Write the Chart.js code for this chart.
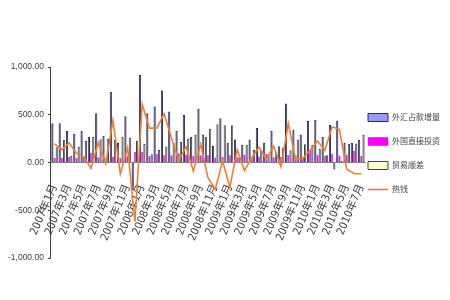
<!DOCTYPE html>
<html>
<head>
<meta charset="utf-8">
<script src="https://cdn.jsdelivr.net/npm/chart.js@4/dist/chart.umd.min.js"></script>
<style>
  html, body { margin: 0; padding: 0; background: #fff; }
  #wrap { width: 450px; height: 300px; }
</style>
</head>
<body>
<div id="wrap"><canvas id="chart"></canvas></div>
<script>
const months = [
  "2007年1月", "2007年2月", "2007年3月", "2007年4月", "2007年5月", "2007年6月",
  "2007年7月", "2007年8月", "2007年9月", "2007年10月", "2007年11月", "2007年12月",
  "2008年1月", "2008年2月", "2008年3月", "2008年4月", "2008年5月", "2008年6月",
  "2008年7月", "2008年8月", "2008年9月", "2008年10月", "2008年11月", "2008年12月",
  "2009年1月", "2009年2月", "2009年3月", "2009年4月", "2009年5月", "2009年6月",
  "2009年7月", "2009年8月", "2009年9月", "2009年10月", "2009年11月", "2009年12月",
  "2010年1月", "2010年2月", "2010年3月", "2010年4月", "2010年5月", "2010年6月",
  "2010年7月"
];

// 外汇占款增量
const fxIncrease = [
  410, 410, 330, 300, 330, 270, 515, 280, 740, 205, 485, -290,
  917, 515, 587, 755, 535, 330, 500, 268, 560, 268, 175, 463,
  206, 240, 185, 240, 360, 206, 333, 170, 618, 343, 292, 436,
  446, 268, 395, 436, 206, 206, 236
];

// 外国直接投资
const fdi = [
  50, 50, 58, 50, 58, 100, 54, 49, 61, 50, 67, 110,
  110, 69, 92, 77, 77, 96, 83, 70, 75, 77, 53, 60,
  75, 58, 84, 58, 64, 90, 54, 60, 79, 73, 58, 120,
  81, 68, 92, 74, 82, 120, 69
];

// 贸易顺差
const tradeSurplus = [
  159, 237, 68, 168, 224, 269, 243, 249, 239, 270, 263, 226,
  195, 86, 134, 167, 202, 214, 252, 288, 293, 353, 401, 390,
  391, 48, 186, 131, 134, 83, 106, 157, 129, 240, 191, 184,
  142, 76, -72, 17, 195, 200, 287
];

// 热钱
const hotMoney = [
  195, 135, 205, 95, 60, -60, 210, -10, 440, -120, 155, -620,
  610, 360, 360, 510, 260, 20, 165, -90, 190, -160, -280, 15,
  -260, 135, -85, 50, 160, 35, 170, -45, 410, 30, 45, 130,
  225, 125, 375, 345, -70, -115, -120
];

const yTicks = [-1000, -500, 0, 500, 1000];

Chart.defaults.font.family = '"Liberation Sans", "Noto Sans CJK SC", sans-serif';
Chart.defaults.color = "#404040";

// narrow legend column sitting right of the plot
const legendPlace = {
  id: "legendPlace",
  beforeInit(chart) {
    const fit = chart.legend.fit;
    chart.legend.fit = function () {
      fit.call(this);
      this.width = 79;
    };
  },
  afterLayout(chart) {
    chart.legend.left = 368 - 16;
    chart.legend.top -= 18;
  }
};

const ctx = document.getElementById("chart").getContext("2d");
new Chart(ctx, {
  data: {
    labels: months,
    datasets: [
      {
        type: "bar",
        label: "外汇占款增量",
        data: fxIncrease,
        backgroundColor: "#9999FF",
        borderColor: "#2A2A55",
        borderWidth: 1,
        pointStyle: "rect",
        order: 1
      },
      {
        type: "bar",
        label: "外国直接投资",
        data: fdi,
        backgroundColor: "#FF00FF",
        borderColor: "#A020A0",
        borderWidth: 0.5,
        pointStyle: "rect",
        order: 1
      },
      {
        type: "bar",
        label: "贸易顺差",
        data: tradeSurplus,
        backgroundColor: "#FFFFCC",
        borderColor: "#444444",
        borderWidth: 1,
        pointStyle: "rect",
        order: 1
      },
      {
        type: "line",
        label: "热钱",
        data: hotMoney,
        borderColor: "#EE8033",
        backgroundColor: "#EE8033",
        borderWidth: 1.6,
        pointRadius: 0,
        tension: 0,
        pointStyle: "line",
        order: 0
      }
    ]
  },
  options: {
    responsive: true,
    maintainAspectRatio: false,
    animation: false,
    layout: { padding: { top: 67, left: 4, right: 6, bottom: 42 } },
    datasets: {
      bar: { categoryPercentage: 0.9, barPercentage: 1.0 }
    },
    plugins: {
      tooltip: { enabled: false },
      legend: {
        position: "right",
        labels: {
          usePointStyle: true,
          pointStyleWidth: 20,
          boxHeight: 8,
          padding: 16,
          font: { size: 8 },
          color: "#404040",
          sort: (a, b) => a.datasetIndex - b.datasetIndex
        }
      }
    },
    scales: {
      x: {
        position: { y: 0 },
        offset: true,
        grid: { display: false },
        border: { display: true, color: "#808080" },
        ticks: {
          autoSkip: false,
          maxRotation: 67,
          minRotation: 67,
          padding: 12,
          font: { size: 11, family: '"DejaVu Sans Condensed", "Noto Sans CJK SC", sans-serif' },
          callback: function (value, index) {
            return index % 2 === 0 ? months[index] : "";
          }
        }
      },
      y: {
        min: -1000,
        max: 1000,
        afterBuildTicks: (axis) => { axis.ticks = yTicks.map(v => ({ value: v })); },
        grid: { drawOnChartArea: false, tickLength: 3, color: "#404040" },
        border: { display: true, color: "#404040" },
        ticks: {
          padding: 4,
          font: { size: 8.5 },
          callback: (v) => v.toLocaleString("en-US", { minimumFractionDigits: 2, maximumFractionDigits: 2 })
        }
      }
    }
  },
  plugins: [legendPlace]
});
</script>
</body>
</html>
